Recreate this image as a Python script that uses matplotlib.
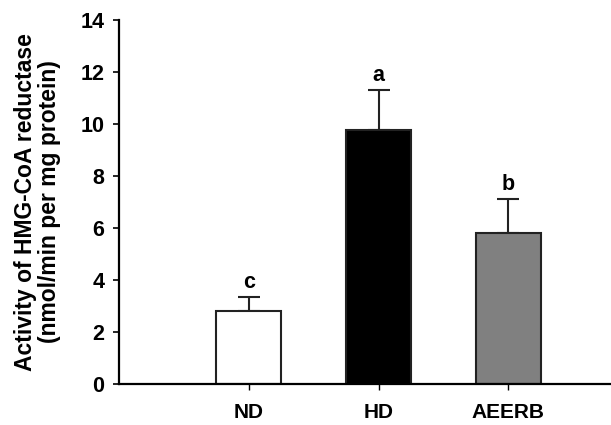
import matplotlib
matplotlib.use('Agg')
import matplotlib.pyplot as plt

groups = ['ND', 'HD', 'AEERB']
activity = [2.81, 9.78, 5.80]
sem = [0.52, 1.51, 1.30]
letters = ['c', 'a', 'b']
bar_colors = ['white', 'black', '#808080']

plt.rcParams['font.family'] = ['Liberation Sans', 'DejaVu Sans']
plt.rcParams['font.weight'] = 'bold'

fig = plt.figure(figsize=(6.11, 4.25), dpi=100)
ax = fig.add_axes([0.195, 0.0965, 0.805, 0.8565])

x = [1, 2, 3]
ax.bar(x, activity, width=0.5, color=bar_colors, edgecolor='#222222', linewidth=1.5, zorder=2)
ax.errorbar(x, activity, yerr=[[0, 0, 0], sem], fmt='none', ecolor='#222222',
            elinewidth=1.5, capsize=8, capthick=1.5, zorder=1)

# significance letters above the error bars
for xi, v, e, lab in zip(x, activity, sem, letters):
    ax.text(xi, v + e + 0.58, lab, ha='center', va='center', fontsize=15.5, fontweight='bold')

ax.set_xlim(0, 3.79)
ax.set_ylim(0, 14)
ax.set_yticks(range(0, 15, 2))
ax.set_xticks(x)
ax.set_xticklabels(groups)

for s in ['top', 'right']:
    ax.spines[s].set_visible(False)
ax.spines['left'].set_linewidth(1.6)
ax.spines['bottom'].set_linewidth(1.6)
ax.tick_params(axis='y', length=4.5, width=1.2, pad=6, labelsize=15.5)
ax.tick_params(axis='x', length=4, width=1, pad=10, labelsize=15)

ax.set_ylabel('Activity of HMG-CoA reductase\n(nmol/min per mg protein)', fontsize=16.5,
              fontweight='bold', linespacing=1.05)
ax.yaxis.set_label_coords(-0.118, 0.5)

fig.savefig('out.png', dpi=100)
